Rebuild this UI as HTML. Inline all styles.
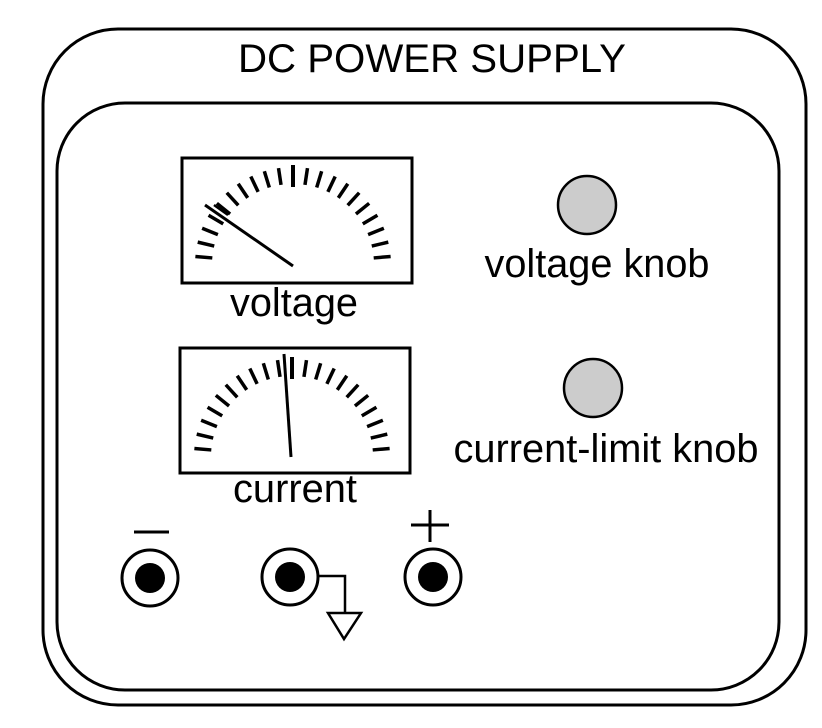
<!DOCTYPE html>
<html><head><style>
html,body{margin:0;padding:0;background:#fff;}
svg{display:block;}
text{font-family:"Liberation Sans",Arial,sans-serif;fill:#000;}
</style></head><body>
<svg width="822" height="728" viewBox="0 0 822 728" xmlns="http://www.w3.org/2000/svg">
<rect x="43" y="29" width="763" height="676" rx="75" ry="75" fill="none" stroke="#000" stroke-width="3"/>
<rect x="57" y="103" width="722" height="587" rx="68" ry="68" fill="none" stroke="#000" stroke-width="3"/>
<text x="432" y="72" font-size="40" text-anchor="middle" textLength="388" lengthAdjust="spacingAndGlyphs">DC POWER SUPPLY</text>

<!-- voltage meter -->
<rect x="182" y="158" width="230" height="125" fill="none" stroke="#000" stroke-width="3"/>
<g stroke="#000" stroke-width="3.5" stroke-linecap="butt">
<g id="ticks1">
<line x1="195" y1="265" x2="212" y2="265" transform="rotate(5 293 265)"/>
<line x1="195" y1="265" x2="212" y2="265" transform="rotate(13.5 293 265)"/>
<line x1="195" y1="265" x2="212" y2="265" transform="rotate(22 293 265)"/>
<line x1="195" y1="265" x2="212" y2="265" transform="rotate(30.5 293 265)"/>
<line x1="195" y1="265" x2="212" y2="265" transform="rotate(39 293 265)"/>
<line x1="195" y1="265" x2="212" y2="265" transform="rotate(47.5 293 265)"/>
<line x1="195" y1="265" x2="212" y2="265" transform="rotate(56 293 265)"/>
<line x1="195" y1="265" x2="212" y2="265" transform="rotate(64.5 293 265)"/>
<line x1="195" y1="265" x2="212" y2="265" transform="rotate(73 293 265)"/>
<line x1="195" y1="265" x2="212" y2="265" transform="rotate(81.5 293 265)"/>
<line x1="193" y1="265" x2="215" y2="265" transform="rotate(90 293 265)" stroke-width="4"/>
<line x1="195" y1="265" x2="212" y2="265" transform="rotate(98.5 293 265)"/>
<line x1="195" y1="265" x2="212" y2="265" transform="rotate(107 293 265)"/>
<line x1="195" y1="265" x2="212" y2="265" transform="rotate(115.5 293 265)"/>
<line x1="195" y1="265" x2="212" y2="265" transform="rotate(124 293 265)"/>
<line x1="195" y1="265" x2="212" y2="265" transform="rotate(132.5 293 265)"/>
<line x1="195" y1="265" x2="212" y2="265" transform="rotate(141 293 265)"/>
<line x1="195" y1="265" x2="212" y2="265" transform="rotate(149.5 293 265)"/>
<line x1="195" y1="265" x2="212" y2="265" transform="rotate(158 293 265)"/>
<line x1="195" y1="265" x2="212" y2="265" transform="rotate(166.5 293 265)"/>
<line x1="195" y1="265" x2="212" y2="265" transform="rotate(175 293 265)"/>
</g>
</g>
<line x1="293" y1="266" x2="205" y2="205" stroke="#000" stroke-width="3"/>
<line x1="214" y1="205" x2="228" y2="215" stroke="#000" stroke-width="2.5"/>
<text x="294" y="316" font-size="40" text-anchor="middle" textLength="128" lengthAdjust="spacingAndGlyphs">voltage</text>

<!-- current meter -->
<rect x="180" y="348" width="230" height="125" fill="none" stroke="#000" stroke-width="3"/>
<g stroke="#000" stroke-width="3.5" transform="translate(-1 192)">
<use href="#ticks1"/>
</g>
<line x1="291" y1="457" x2="284" y2="354" stroke="#000" stroke-width="3"/>
<text x="295" y="502" font-size="40" text-anchor="middle" textLength="124" lengthAdjust="spacingAndGlyphs">current</text>

<!-- knobs -->
<circle cx="587" cy="205" r="29" fill="#cccccc" stroke="#000" stroke-width="2.5"/>
<text x="597" y="277" font-size="40" text-anchor="middle" textLength="225" lengthAdjust="spacingAndGlyphs">voltage knob</text>
<circle cx="593" cy="388" r="29" fill="#cccccc" stroke="#000" stroke-width="2.5"/>
<text x="606" y="462" font-size="40" text-anchor="middle" textLength="305" lengthAdjust="spacingAndGlyphs">current-limit knob</text>

<!-- jacks -->
<g stroke="#000" stroke-width="3">
<circle cx="150" cy="578" r="28" fill="#fff"/>
<circle cx="290" cy="577" r="28" fill="#fff"/>
<circle cx="433" cy="577" r="28" fill="#fff"/>
<line x1="134" y1="532" x2="169" y2="532"/>
<line x1="411" y1="525" x2="449" y2="525"/>
<line x1="430" y1="510" x2="430" y2="542"/>
<polyline points="318,576 345,576 345,612" fill="none" stroke-width="2.5"/>
<polygon points="328,613 361,613 344,639" fill="#fff" stroke-width="2.5"/>
</g>
<circle cx="150" cy="578" r="15" fill="#000"/>
<circle cx="290" cy="577" r="15" fill="#000"/>
<circle cx="433" cy="577" r="15" fill="#000"/>
</svg>
</body></html>
